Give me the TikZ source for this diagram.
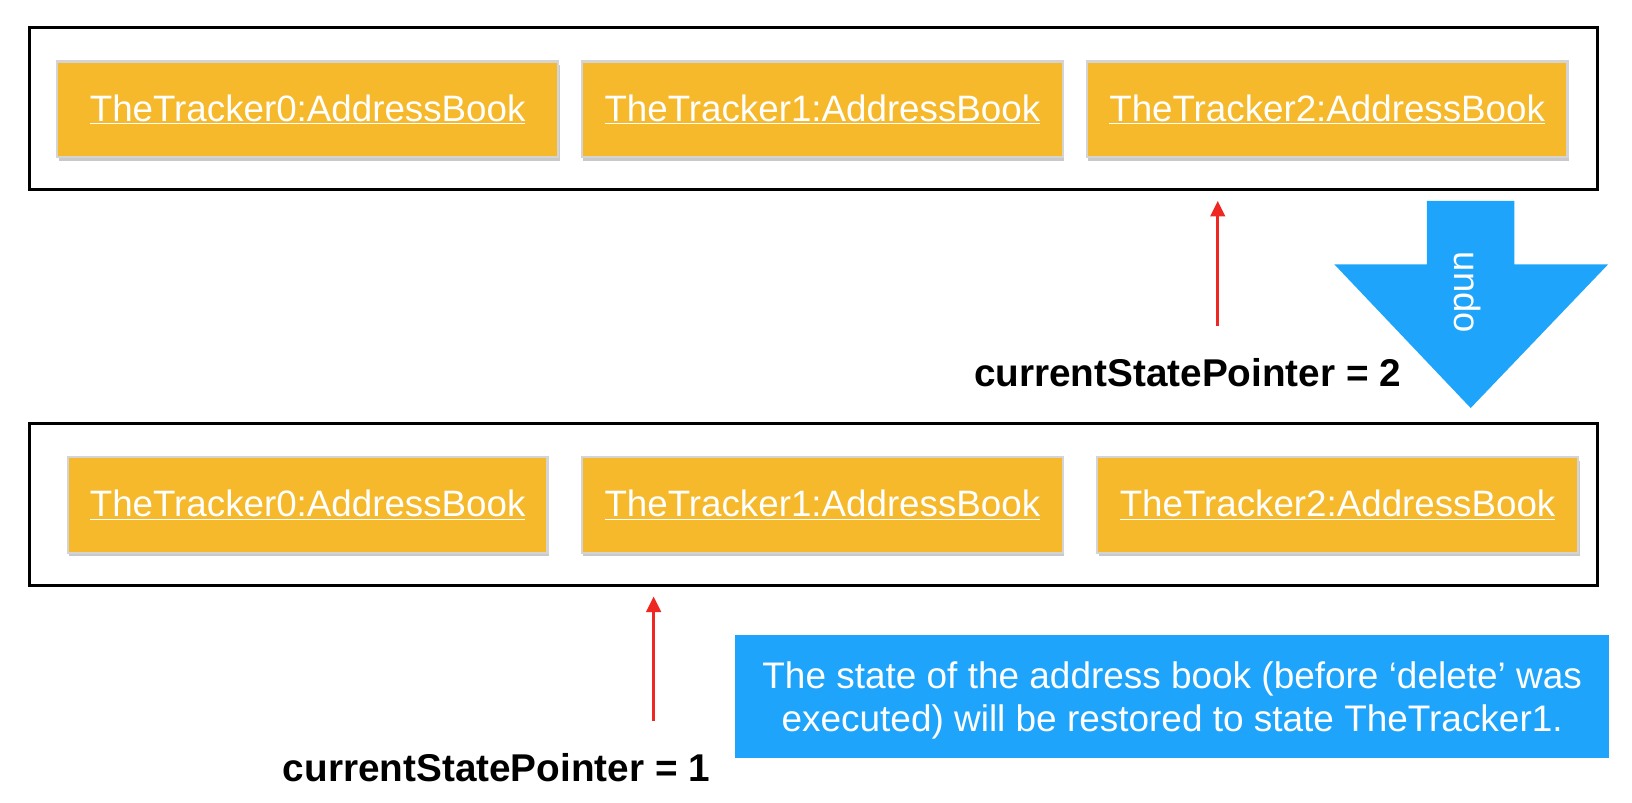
\documentclass[tikz,border=0pt]{standalone}
\usepackage{fontspec}
\setmainfont{Liberation Sans}
\usetikzlibrary{shadows,arrows.meta}
\definecolor{boxorange}{HTML}{F6B92B}
\definecolor{boxgray}{HTML}{D4D4D4}
\definecolor{undoblue}{HTML}{1FA4FC}
\definecolor{ptrred}{HTML}{EE2722}
\tikzset{
  frame/.style={draw=black, line width=2.9pt},
  objbox/.style={fill=boxorange, draw=boxgray, line width=2.2pt, minimum height=92pt, text=white,
    font=\fontsize{35.3}{40}\selectfont, inner sep=0pt,
    drop shadow={shadow xshift=1.5pt, shadow yshift=-3.5pt, opacity=0.3, fill=black!70}},
  ptr/.style={draw=ptrred, line width=2.6pt, -{Triangle[length=15pt,width=14pt]}},
  ptrlabel/.style={font=\bfseries\fontsize{37.2}{42}\selectfont, text=black},
}
\newcommand{\ul}[1]{\underline{#1}}
\begin{document}
\begin{tikzpicture}[x=1pt,y=-1pt]
\useasboundingbox (0,0) rectangle (1568,770.6);
% top frame
\node[frame, minimum width=1506pt, minimum height=156pt, anchor=north west] (topframe) at (27,25) {};
\node[objbox, minimum width=481pt, anchor=north west] (t0) at (54,58) {\ul{TheTracker0:AddressBook}};
\node[objbox, minimum width=462pt, anchor=north west] (t1) at (558,58) {\ul{TheTracker1:AddressBook}};
\node[objbox, minimum width=462pt, anchor=north west] (t2) at (1043,58) {\ul{TheTracker2:AddressBook}};
% bottom frame
\node[frame, minimum width=1506pt, minimum height=156pt, anchor=north west] (botframe) at (27,405) {};
\node[objbox, minimum width=461pt, anchor=north west] (b0) at (64,438) {\ul{TheTracker0:AddressBook}};
\node[objbox, minimum width=462pt, anchor=north west] (b1) at (558,438) {\ul{TheTracker1:AddressBook}};
\node[objbox, minimum width=462pt, anchor=north west] (b2) at (1053,438) {\ul{TheTracker2:AddressBook}};
% pointers
\coordinate (p2tail) at (1170,313);
\coordinate (p2head) at (1170,193);
\draw[ptr] (p2tail) -- (p2head);
\node[ptrlabel] (p2label) at (1141,358) {currentStatePointer = 2};
\coordinate (p1tail) at (628,693);
\coordinate (p1head) at (628,573);
\draw[ptr] (p1tail) -- (p1head);
\node[ptrlabel] (p1label) at (477,738) {currentStatePointer = 1};
% undo arrow
\fill[undoblue] (1371,193) -- (1455,193) -- (1455,254) -- (1545,254) -- (1413,392) -- (1282,254) -- (1371,254) -- cycle;
\node[text=white, rotate=-90, font=\fontsize{35}{40}\selectfont] (undo) at (1410,281) {undo};
% note
\node[fill=undoblue, minimum width=840pt, minimum height=118pt, anchor=north west, inner sep=0pt] (notebox) at (706,610) {};
\node[text=white, align=center, font=\fontsize{35.5}{41}\selectfont] (note) at ([yshift=-4pt]notebox.center) {The state of the address book (before ‘delete’ was\\executed) will be restored to state TheTracker1.};
\end{tikzpicture}
\end{document}
